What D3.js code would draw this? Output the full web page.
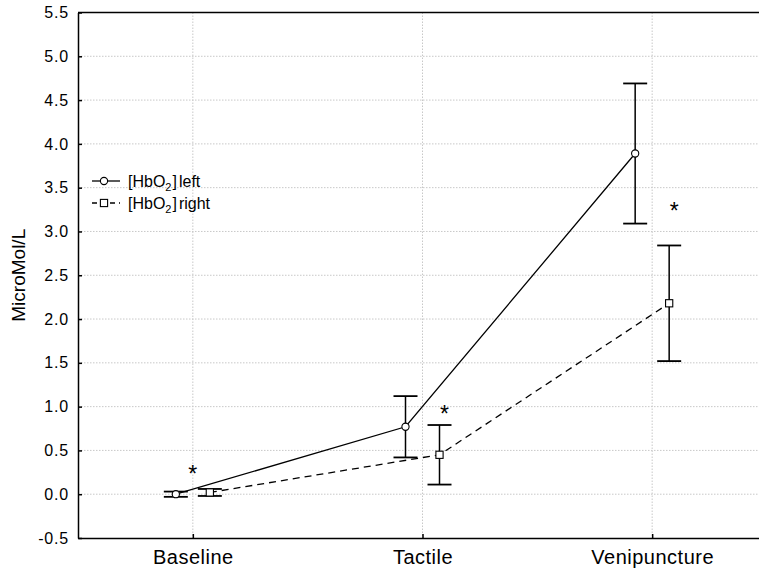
<!DOCTYPE html>
<html>
<head>
<meta charset="utf-8">
<script src="https://cdn.jsdelivr.net/npm/d3@7"></script>
<style>
  html, body { margin: 0; padding: 0; background: #fff; }
  svg { display: block; font-family: "Liberation Sans", Arial, Helvetica, sans-serif; }
</style>
</head>
<body>
<svg id="chart" width="759" height="570"></svg>
<script>
// ---- data ----
const categories = ["Baseline", "Tactile", "Venipuncture"];
const leftMeans  = [0.00, 0.77, 3.89];
const leftErr    = [0.03, 0.35, 0.80];
const rightMeans = [0.02, 0.45, 2.18];
const rightErr   = [0.04, 0.34, 0.66];
const starValues = [0.24, 0.93, 3.24];
const yTicks = [-0.5, 0.0, 0.5, 1.0, 1.5, 2.0, 2.5, 3.0, 3.5, 4.0, 4.5, 5.0, 5.5];
const legendLabels = ["left", "right"];
const yLabel = "MicroMol/L";

// ---- layout ----
const svg = d3.select("#chart");
const plot = { left: 78, right: 767, top: 12.5, bottom: 538 };
const off = 17;             // series offset from category centre
const starOffsets = [0, 22, 22];

const x = d3.scalePoint().domain(categories).range([plot.left, plot.right]).padding(0.5);
const y = d3.scaleLinear().domain([-0.5, 5.5]).range([plot.bottom, plot.top]);

// gridlines
const grid = svg.append("g");
grid.selectAll("line.h").data(yTicks.slice(1, -1)).join("line")
  .attr("x1", plot.left).attr("x2", plot.right)
  .attr("y1", d => y(d)).attr("y2", d => y(d))
  .attr("stroke", "#c8c8c8").attr("stroke-width", 1).attr("stroke-dasharray", "1.5,1.5");
grid.selectAll("line.v").data(categories).join("line")
  .attr("x1", d => x(d)).attr("x2", d => x(d))
  .attr("y1", plot.top).attr("y2", plot.bottom)
  .attr("stroke", "#c8c8c8").attr("stroke-width", 1).attr("stroke-dasharray", "1.5,1.5");

// axes
const yAxis = d3.axisLeft(y).tickValues(yTicks).tickFormat(d => d.toFixed(1))
  .tickSizeInner(-4).tickSizeOuter(0).tickPadding(9);
const gy = svg.append("g").attr("transform", `translate(${plot.left},0)`).call(yAxis);
gy.select(".domain").attr("stroke", "#000").attr("stroke-width", 1.5);
gy.selectAll(".tick line").attr("stroke", "#000").attr("stroke-width", 1.5);
gy.selectAll(".tick text").attr("font-size", 16).attr("fill", "#000")
  .attr("font-family", "Liberation Sans, Arial, sans-serif").attr("letter-spacing", 0.8);

const xAxis = d3.axisBottom(x).tickSizeInner(-4).tickSizeOuter(0).tickPadding(12);
const gx = svg.append("g").attr("transform", `translate(0,${plot.bottom})`).call(xAxis);
gx.select(".domain").attr("stroke", "#000").attr("stroke-width", 1.5);
gx.selectAll(".tick line").attr("stroke", "#000").attr("stroke-width", 1.5);
gx.selectAll(".tick text").attr("font-size", 20).attr("fill", "#000")
  .attr("font-family", "Liberation Sans, Arial, sans-serif").attr("letter-spacing", 0.5);

// top frame
svg.append("line").attr("x1", plot.left).attr("x2", plot.right)
  .attr("y1", plot.top).attr("y2", plot.bottom === 0 ? 0 : plot.top).attr("stroke", "#000").attr("stroke-width", 1.5);

// y label
svg.append("text")
  .attr("transform", `translate(25,${(plot.top + plot.bottom) / 2}) rotate(-90)`)
  .attr("text-anchor", "middle").attr("font-size", 19).attr("fill", "#000")
  .text(yLabel);

// series
function drawSeries(means, errs, dx, dashed, marker) {
  const pts = categories.map((c, i) => ({ x: x(c) + dx, m: means[i], e: errs[i] }));
  const g = svg.append("g");
  g.append("path").datum(pts)
    .attr("d", d3.line().x(d => d.x).y(d => y(d.m)))
    .attr("fill", "none").attr("stroke", "#000").attr("stroke-width", 1.3)
    .attr("stroke-dasharray", dashed ? "7,5" : null);
  const eb = g.selectAll("g.eb").data(pts).join("g");
  eb.append("line").attr("x1", d => d.x).attr("x2", d => d.x)
    .attr("y1", d => y(d.m + d.e)).attr("y2", d => y(d.m - d.e))
    .attr("stroke", "#000").attr("stroke-width", 1.5);
  [1, -1].forEach(s => {
    eb.append("line").attr("x1", d => d.x - 12).attr("x2", d => d.x + 12)
      .attr("y1", d => y(d.m + s * d.e)).attr("y2", d => y(d.m + s * d.e))
      .attr("stroke", "#000").attr("stroke-width", 1.8);
  });
  if (marker === "circle") {
    g.selectAll("circle").data(pts).join("circle")
      .attr("cx", d => d.x).attr("cy", d => y(d.m)).attr("r", 3.6)
      .attr("fill", "#fff").attr("stroke", "#000").attr("stroke-width", 1.1);
  } else {
    g.selectAll("rect").data(pts).join("rect")
      .attr("x", d => d.x - 3.6).attr("y", d => y(d.m) - 3.6)
      .attr("width", 7.2).attr("height", 7.2)
      .attr("fill", "#fff").attr("stroke", "#000").attr("stroke-width", 1.1);
  }
}
drawSeries(leftMeans, leftErr, -off, false, "circle");
drawSeries(rightMeans, rightErr, off, true, "square");

// significance stars
svg.selectAll("text.star").data(starValues).join("text")
  .attr("class", "star")
  .attr("x", (d, i) => x(categories[i]) + starOffsets[i])
  .attr("y", d => y(d) + 9)
  .attr("text-anchor", "middle").attr("font-size", 23).attr("fill", "#000")
  .text("*");

// legend
const lg = svg.append("g");
legendLabels.forEach((lab, i) => {
  const cy = 181 + i * 22;
  lg.append("line").attr("x1", 92).attr("x2", 120).attr("y1", cy).attr("y2", cy)
    .attr("stroke", "#000").attr("stroke-width", 1.3)
    .attr("stroke-dasharray", i === 1 ? "5,4" : null);
  if (i === 0) {
    lg.append("circle").attr("cx", 104).attr("cy", cy).attr("r", 3.6)
      .attr("fill", "#fff").attr("stroke", "#000").attr("stroke-width", 1.1);
  } else {
    lg.append("rect").attr("x", 104 - 3.6).attr("y", cy - 3.6).attr("width", 7.2).attr("height", 7.2)
      .attr("fill", "#fff").attr("stroke", "#000").attr("stroke-width", 1.1);
  }
  const t = lg.append("text").attr("x", 128).attr("y", cy + 5.5)
    .attr("font-size", 16).attr("fill", "#000");
  t.append("tspan").text("[HbO");
  t.append("tspan").attr("font-size", 11).attr("dy", 4).text("2");
  t.append("tspan").attr("dy", -4).attr("dx", 1).text("]");
  t.append("tspan").attr("dx", 2).text(lab);
});
</script>
</body>
</html>
